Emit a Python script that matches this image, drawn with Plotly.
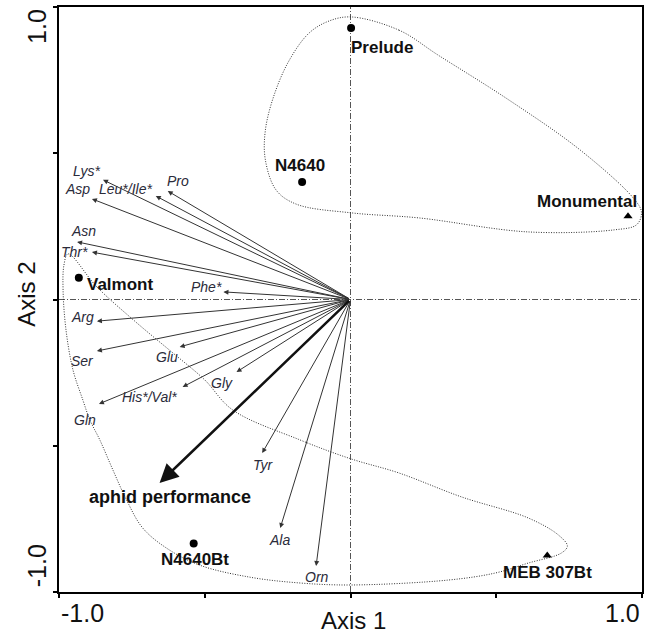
import plotly.graph_objects as go

# ---- data ----
sample_names = ["Prelude", "N4640", "Monumental", "Valmont", "N4640Bt", "MEB 307Bt"]
sample_x = [0.002, -0.166, 0.952, -0.932, -0.538, 0.675]
sample_y = [0.928, 0.402, 0.285, 0.074, -0.834, -0.875]
sample_symbol = ["circle", "circle", "triangle-up", "circle", "circle", "triangle-up"]

amino_names = ["Lys*", "Asp", "Leu*/Ile*", "Pro", "Asn", "Thr*", "Phe*", "Arg", "Ser",
               "Glu", "Gly", "His*/Val*", "Gln", "Tyr", "Ala", "Orn"]
amino_x = [-0.849, -0.887, -0.668, -0.627, -0.938, -0.887, -0.436, -0.870, -0.870,
           -0.586, -0.391, -0.576, -0.863, -0.303, -0.241, -0.118]
amino_y = [0.409, 0.344, 0.354, 0.371, 0.197, 0.162, 0.026, -0.074, -0.176,
           -0.162, -0.248, -0.299, -0.357, -0.525, -0.781, -0.911]

aphid_name = "aphid performance"
aphid_x = -0.655
aphid_y = -0.627

# envelope 1 (Prelude, N4640, Monumental)
hull1_x = [0.002, 0.166, 0.303, 0.542, 0.788, 0.970, 0.998, 0.982, 0.904, 0.610, 0.234,
           0.005, -0.186, -0.255, -0.292, -0.292, -0.262, -0.210, -0.142, -0.074, 0.002]
hull1_y = [0.966, 0.921, 0.834, 0.683, 0.511, 0.347, 0.299, 0.256, 0.238, 0.231, 0.279,
           0.296, 0.326, 0.374, 0.477, 0.579, 0.699, 0.818, 0.911, 0.952, 0.966]
# envelope 2 (Valmont, N4640Bt, MEB 307Bt)
hull2_x = [-0.969, -0.870, -0.733, -0.609, -0.501, -0.405, -0.176, 0.002, 0.166, 0.381,
           0.610, 0.713, 0.744, 0.723, 0.610, 0.497, 0.337, 0.002, -0.176, -0.347, -0.518,
           -0.631, -0.713, -0.768, -0.815, -0.860, -0.894, -0.918, -0.952, -0.976, -0.986,
           -0.983, -0.969]
hull2_y = [0.156, 0.043, -0.080, -0.183, -0.274, -0.377, -0.479, -0.545, -0.593, -0.675,
           -0.747, -0.805, -0.843, -0.867, -0.901, -0.935, -0.959, -0.976, -0.969, -0.949,
           -0.908, -0.850, -0.781, -0.686, -0.583, -0.480, -0.412, -0.344, -0.241, -0.104,
           0.032, 0.118, 0.156]

# label offsets (pixels) for text placement
sample_label_shift = [(31, -19), (-2, 16), (-41, 15), (41, -7), (1, -16), (0, -17)]
amino_label_shift = [(-16, 9), (-14, 10), (-30, 7), (10, 10), (6, 11), (-17, 0), (-17, 5),
                     (-14, 4), (-14, -10), (-13, -10), (-15, -11), (-33, -10), (-14, -16),
                     (1, -12), (-1, -12), (1, -11)]

FONT = "Liberation Sans, Arial, sans-serif"

fig = go.Figure()

for hx, hy in [(hull1_x, hull1_y), (hull2_x, hull2_y)]:
    fig.add_trace(go.Scatter(x=hx, y=hy, mode="lines",
                             line=dict(color="#333333", width=1, dash="1px,1.5px",
                                       shape="spline", smoothing=1.0),
                             hoverinfo="skip", showlegend=False))

fig.add_trace(go.Scatter(x=sample_x, y=sample_y, mode="markers",
                         marker=dict(symbol=sample_symbol, size=8, color="black"),
                         showlegend=False))

# reference lines through origin
fig.add_shape(type="line", x0=0, x1=0, y0=-1, y1=1, xref="x", yref="y",
              line=dict(color="#555555", width=1, dash="6px,2px,1px,2px"), layer="below")
fig.add_shape(type="line", x0=-1, x1=1, y0=0, y1=0, xref="x", yref="y",
              line=dict(color="#555555", width=1, dash="6px,2px,1px,2px"), layer="below")

annotations = []
for name, ax_, ay_, (dx, dy) in zip(amino_names, amino_x, amino_y, amino_label_shift):
    annotations.append(dict(x=ax_, y=ay_, ax=0, ay=0, axref="x", ayref="y", xref="x", yref="y",
                            text="", showarrow=True, arrowhead=2, arrowsize=1, arrowwidth=1,
                            arrowcolor="#333333", standoff=0, startstandoff=0))
    annotations.append(dict(x=ax_, y=ay_, xref="x", yref="y", text="<i>%s</i>" % name,
                            showarrow=False, xshift=dx, yshift=dy,
                            font=dict(family=FONT, size=14, color="#2b2b3a")))

annotations.append(dict(x=aphid_x, y=aphid_y, ax=0, ay=0, axref="x", ayref="y", xref="x", yref="y",
                        text="", showarrow=True, arrowhead=2, arrowsize=1.5, arrowwidth=2.5,
                        arrowcolor="#111111", standoff=0))
annotations.append(dict(x=aphid_x, y=aphid_y, xref="x", yref="y", text="<b>%s</b>" % aphid_name,
                        showarrow=False, xshift=10, yshift=-14,
                        font=dict(family=FONT, size=18, color="#111111")))

for name, sx, sy, (dx, dy) in zip(sample_names, sample_x, sample_y, sample_label_shift):
    annotations.append(dict(x=sx, y=sy, xref="x", yref="y", text="<b>%s</b>" % name,
                            showarrow=False, xshift=dx, yshift=dy,
                            font=dict(family=FONT, size=17, color="#111111")))

# tick labels and axis titles
tick_font = dict(family=FONT, size=25, color="#111111")
title_font = dict(family=FONT, size=24, color="#111111")
annotations += [
    dict(x=0, y=0, xref="paper", yref="paper", text="-1.0", showarrow=False,
         xanchor="left", yanchor="middle", yshift=-21, font=tick_font),
    dict(x=1, y=0, xref="paper", yref="paper", text="1.0", showarrow=False,
         xanchor="right", yanchor="middle", yshift=-21, font=tick_font),
    dict(x=0.506, y=0, xref="paper", yref="paper", text="Axis 1", showarrow=False,
         xanchor="center", yanchor="bottom", yshift=-44, font=title_font),
    dict(x=0, y=0.966, xref="paper", yref="paper", text="1.0", showarrow=False,
         xanchor="center", yanchor="middle", xshift=-22, textangle=-90, font=tick_font),
    dict(x=0, y=0.044, xref="paper", yref="paper", text="-1.0", showarrow=False,
         xanchor="center", yanchor="middle", xshift=-22, textangle=-90, font=tick_font),
    dict(x=0, y=0.508, xref="paper", yref="paper", text="Axis 2", showarrow=False,
         xanchor="center", yanchor="middle", xshift=-32, textangle=-90, font=title_font),
]

axis_common = dict(range=[-1, 1], showgrid=False, zeroline=False, showline=True,
                   linecolor="black", linewidth=2, mirror=True, ticks="outside",
                   ticklen=4, tickwidth=1.5, tickcolor="black",
                   tickvals=[-1, -0.5, 0, 0.5, 1], showticklabels=False)

fig.update_layout(
    width=649, height=636,
    margin=dict(l=59, r=5, t=7, b=44),
    paper_bgcolor="white", plot_bgcolor="white",
    xaxis=axis_common, yaxis=axis_common,
    annotations=annotations,
    showlegend=False,
)

fig.write_html("out.html")
